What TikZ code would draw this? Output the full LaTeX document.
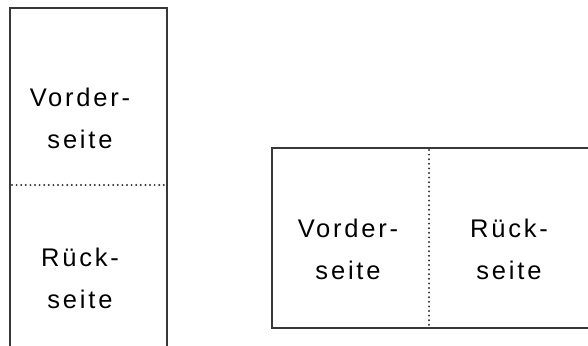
\documentclass[tikz,border=0pt]{standalone}
\usepackage{fontspec}
\setmainfont{Liberation Sans}[LetterSpace=11]
\begin{document}
\begin{tikzpicture}[x=1pt,y=-1pt,
  sheet/.style={draw=black!78,line width=2.8pt},
  fold/.style={draw=black!80,line width=2.2pt,line cap=round,dash pattern=on 0pt off 4.6pt},
  lbl/.style={align=center,font=\fontsize{25.5}{42}\selectfont,inner sep=0pt}]
\useasboundingbox (0,0) rectangle (588,345);
\path[sheet] (10,8) rectangle (167,352);
\path[fold] (12,185) -- (165,185);
\path[sheet] (272,148) rectangle (595,328);
\path[fold] (429,150) -- (429,326);
\node[lbl] (vl) at (80,118) {Vorder-\\seite};
\node[lbl] (rl) at (80,278) {Rück-\\seite};
\node[lbl] (vr) at (348,249) {Vorder-\\seite};
\node[lbl] (rr) at (509,249) {Rück-\\seite};
\end{tikzpicture}
\end{document}
